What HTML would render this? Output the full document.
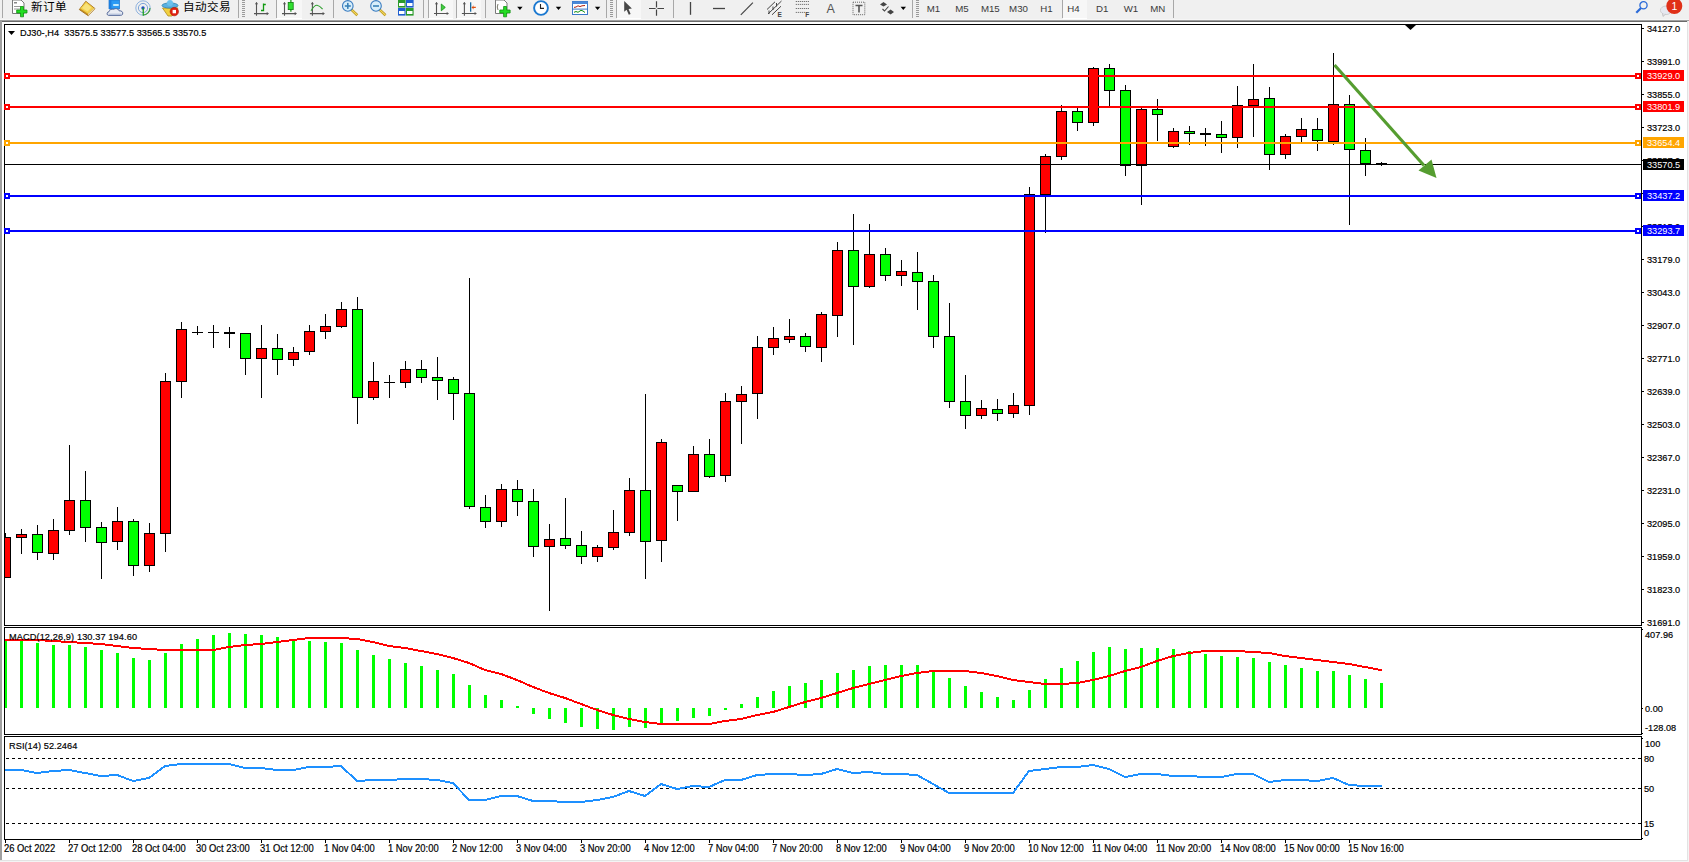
<!DOCTYPE html><html><head><meta charset="utf-8"><title>MT4</title><style>html,body{margin:0;padding:0;width:1689px;height:862px;overflow:hidden;background:#fff}svg{display:block;position:absolute;left:0;top:0}text{font-family:"Liberation Sans", sans-serif}</style></head><body>
<svg width="1689" height="862" viewBox="0 0 1689 862" shape-rendering="crispEdges">
<rect x="0" y="0" width="1689" height="20" fill="#f0f0f0"/>
<g id="toolbar">
<rect x="2" y="0" width="1" height="18" fill="#a8a8a8"/>
<rect x="242" y="0" width="3" height="1" fill="#9a9a9a"/>
<rect x="242" y="2" width="3" height="1" fill="#9a9a9a"/>
<rect x="242" y="4" width="3" height="1" fill="#9a9a9a"/>
<rect x="242" y="6" width="3" height="1" fill="#9a9a9a"/>
<rect x="242" y="8" width="3" height="1" fill="#9a9a9a"/>
<rect x="242" y="10" width="3" height="1" fill="#9a9a9a"/>
<rect x="242" y="12" width="3" height="1" fill="#9a9a9a"/>
<rect x="242" y="14" width="3" height="1" fill="#9a9a9a"/>
<rect x="242" y="16" width="3" height="1" fill="#9a9a9a"/>
<rect x="238" y="0" width="1" height="18" fill="#a8a8a8"/>
<rect x="276" y="0" width="1" height="18" fill="#a8a8a8"/>
<rect x="333" y="0" width="1" height="18" fill="#a8a8a8"/>
<rect x="423" y="0" width="1" height="18" fill="#a8a8a8"/>
<rect x="428" y="0" width="1" height="18" fill="#a8a8a8"/>
<rect x="456" y="0" width="1" height="18" fill="#a8a8a8"/>
<rect x="485" y="0" width="1" height="18" fill="#a8a8a8"/>
<rect x="606" y="0" width="1" height="18" fill="#a8a8a8"/>
<rect x="610" y="0" width="3" height="1" fill="#9a9a9a"/>
<rect x="610" y="2" width="3" height="1" fill="#9a9a9a"/>
<rect x="610" y="4" width="3" height="1" fill="#9a9a9a"/>
<rect x="610" y="6" width="3" height="1" fill="#9a9a9a"/>
<rect x="610" y="8" width="3" height="1" fill="#9a9a9a"/>
<rect x="610" y="10" width="3" height="1" fill="#9a9a9a"/>
<rect x="610" y="12" width="3" height="1" fill="#9a9a9a"/>
<rect x="610" y="14" width="3" height="1" fill="#9a9a9a"/>
<rect x="610" y="16" width="3" height="1" fill="#9a9a9a"/>
<rect x="616" y="0" width="1" height="18" fill="#a8a8a8"/>
<rect x="673" y="0" width="1" height="18" fill="#a8a8a8"/>
<rect x="912" y="0" width="1" height="18" fill="#a8a8a8"/>
<rect x="916" y="0" width="3" height="1" fill="#9a9a9a"/>
<rect x="916" y="2" width="3" height="1" fill="#9a9a9a"/>
<rect x="916" y="4" width="3" height="1" fill="#9a9a9a"/>
<rect x="916" y="6" width="3" height="1" fill="#9a9a9a"/>
<rect x="916" y="8" width="3" height="1" fill="#9a9a9a"/>
<rect x="916" y="10" width="3" height="1" fill="#9a9a9a"/>
<rect x="916" y="12" width="3" height="1" fill="#9a9a9a"/>
<rect x="916" y="14" width="3" height="1" fill="#9a9a9a"/>
<rect x="916" y="16" width="3" height="1" fill="#9a9a9a"/>
<rect x="1062" y="0" width="1" height="18" fill="#a8a8a8"/>
<rect x="1173" y="0" width="1" height="18" fill="#a8a8a8"/>
<rect x="277" y="0" width="25" height="18" fill="#f7f7f7"/>
<rect x="277" y="18" width="25" height="1" fill="#ffffff"/>
<rect x="429" y="0" width="24" height="18" fill="#f7f7f7"/>
<rect x="429" y="18" width="24" height="1" fill="#ffffff"/>
<rect x="457" y="0" width="24" height="18" fill="#f7f7f7"/>
<rect x="457" y="18" width="24" height="1" fill="#ffffff"/>
<rect x="617" y="0" width="24" height="18" fill="#f7f7f7"/>
<rect x="617" y="18" width="24" height="1" fill="#ffffff"/>
<rect x="1063" y="0" width="24" height="18" fill="#f7f7f7"/>
<rect x="1063" y="18" width="24" height="1" fill="#ffffff"/>
<g shape-rendering="geometricPrecision">
<path d="M12.5,0 H21 L24,3 V13.5 H12.5 Z" fill="#fff" stroke="#7a7a7a" stroke-width="1"/>
<rect x="14" y="2" width="3" height="1.5" fill="#888"/><rect x="14" y="6" width="7" height="1" fill="#999"/><rect x="14" y="8.5" width="7" height="1" fill="#999"/>
<path d="M20.5,6.5 h3 v3.5 h3.5 v3 h-3.5 v3.8 h-3 v-3.8 h-3.8 v-3 h3.8 z" fill="#22dd22" stroke="#109010" stroke-width="0.8"/>
<text x="31" y="11.3" font-size="11.6" fill="#000" lang="zh-CN">新订单</text>
<path d="M79.3,9.6 L85.8,1.3 L95,8.6 L88.3,15.8 Z" fill="#c8901c" stroke="#9a6410" stroke-width="0.8"/>
<path d="M80.2,8.6 L86,1.8 L94,8.2 L88,13.8 Z" fill="#f2cf4a"/>
<path d="M82,8 L86.2,3.2 L91.5,7.6 L87.5,11.5 Z" fill="#f8e27a"/>
<path d="M88,13.8 L94,8.2 L95,8.6 L88.3,15.8 Z" fill="#e9d9a8"/>
<path d="M109,0 h10.5 v9 h-10.5 z" fill="#2a9af4" stroke="#1a70c8" stroke-width="0.7"/>
<path d="M109,0 h2.4 v9 h-2.4 z" fill="#1c7fe0"/>
<rect x="113.2" y="4.2" width="5.5" height="1.6" fill="#e8ffff"/>
<path d="M108.6,15.4 C106.6,15.4 106.4,12 109,11.7 C109.4,9.7 111.6,8.7 113.6,9.3 C115.2,7.9 118.6,8.6 119.1,10.8 C121.8,10.5 123.3,12.3 122.6,14.1 C122.2,15 121.6,15.4 120.6,15.4 Z" fill="#e8ecf4" stroke="#4a5f92" stroke-width="0.9"/>
<path d="M108.5,14.3 H121.5" stroke="#b8c4dc" stroke-width="1.4"/>
<circle cx="143" cy="8" r="7.2" fill="none" stroke="#6a9ad8" stroke-width="0.9" opacity="0.8"/>
<circle cx="143" cy="8" r="4.6" fill="none" stroke="#5a8ed0" stroke-width="0.9" opacity="0.85"/>
<path d="M143,15 A7,7 0 0 0 150,8" fill="none" stroke="#40a040" stroke-width="1.2"/>
<circle cx="143" cy="8" r="1.7" fill="#2050c0"/>
<rect x="142.6" y="8" width="1.3" height="7.6" fill="#20a020"/>
<path d="M162.5,8 L178,8 L172,16 L168,16 Z" fill="#f0d040" stroke="#b08a20" stroke-width="0.8"/>
<ellipse cx="170" cy="5.5" rx="8" ry="2.6" fill="#5ab0e0" stroke="#2a80b0" stroke-width="0.8"/>
<ellipse cx="170" cy="3" rx="3" ry="3" fill="#6cc0ec"/>
<circle cx="174.3" cy="11.6" r="4.2" fill="#e02010" stroke="#b01000" stroke-width="0.6"/>
<rect x="172.6" y="9.9" width="3.4" height="3.4" fill="#fff"/>
<text x="183" y="11.3" font-size="11.6" fill="#000" lang="zh-CN">自动交易</text>
<path d="M256.5,2.5 V15.7 M254.0,13.6 H268.0" stroke="#555" stroke-width="1.1" fill="none"/>
<path d="M254.9,4.2 L256.5,2 L258.1,4.2 Z M266.7,12.0 L269.0,13.6 L266.7,15.2 Z" fill="#555"/>
<path d="M263.5,3.5 V11.2 M263.5,4.5 H265.8 M263.5,10.5 H261" stroke="#109a10" stroke-width="1.3" fill="none"/>
<path d="M284.5,2.5 V15.7 M282.0,13.6 H296.0" stroke="#555" stroke-width="1.1" fill="none"/>
<path d="M282.9,4.2 L284.5,2 L286.1,4.2 Z M294.7,12.0 L297.0,13.6 L294.7,15.2 Z" fill="#555"/>
<rect x="290.3" y="0" width="1.2" height="11.7" fill="#109010"/>
<rect x="288.2" y="2.4" width="5" height="7.2" fill="#30e030" stroke="#108010" stroke-width="0.8"/>
<path d="M312.4,2.5 V15.7 M309.9,13.6 H323.9" stroke="#555" stroke-width="1.1" fill="none"/>
<path d="M310.79999999999995,4.2 L312.4,2 L314.0,4.2 Z M322.59999999999997,12.0 L324.9,13.6 L322.59999999999997,15.2 Z" fill="#555"/>
<path d="M311,10.8 Q314.5,5 317,5.3 Q319.5,5.6 322.6,9.2" stroke="#30a030" stroke-width="1.1" fill="none"/>
<path d="M351.40000000000003,9.6 L357.3,15.2" stroke="#b89010" stroke-width="2.6"/>
<path d="M351.7,9.9 L357.1,15" stroke="#f0d860" stroke-width="1.2"/>
<circle cx="347.8" cy="5.9" r="5.3" fill="#d8eefa" stroke="#3a7cc0" stroke-width="1.1"/>
<rect x="344.8" y="5.2" width="6" height="1.6" fill="#3a82b8"/>
<rect x="347.0" y="2.9" width="1.6" height="6" fill="#3a82b8"/>
<path d="M379.6,9.6 L385.5,15.2" stroke="#b89010" stroke-width="2.6"/>
<path d="M379.9,9.9 L385.3,15" stroke="#f0d860" stroke-width="1.2"/>
<circle cx="376" cy="5.9" r="5.3" fill="#d8eefa" stroke="#3a7cc0" stroke-width="1.1"/>
<rect x="373" y="5.2" width="6" height="1.6" fill="#3a82b8"/>
<rect x="398" y="0" width="7.6" height="7.6" fill="#2a9a2a"/>
<rect x="399" y="3" width="5.5" height="3" fill="#fff"/>
<rect x="406" y="0" width="7.6" height="7.6" fill="#1f5fd0"/>
<rect x="407" y="3" width="5.5" height="3" fill="#fff"/>
<rect x="398" y="8" width="7.6" height="7.6" fill="#1f5fd0"/>
<rect x="399" y="11" width="5.5" height="3" fill="#fff"/>
<rect x="406" y="8" width="7.6" height="7.6" fill="#2a9a2a"/>
<rect x="407" y="11" width="5.5" height="3" fill="#fff"/>
<path d="M436.5,2.5 V15.7 M434.0,13.5 H448.0" stroke="#555" stroke-width="1.1" fill="none"/>
<path d="M434.9,4.2 L436.5,2 L438.1,4.2 Z M446.7,11.9 L449.0,13.5 L446.7,15.1 Z" fill="#555"/>
<path d="M441.3,4 L445.3,7.4 L441.3,10.8 Z" fill="#40d040" stroke="#109010" stroke-width="0.8"/>
<path d="M464.4,2.5 V15.7 M461.9,13.5 H475.9" stroke="#555" stroke-width="1.1" fill="none"/>
<path d="M462.79999999999995,4.2 L464.4,2 L466.0,4.2 Z M474.59999999999997,11.9 L476.9,13.5 L474.59999999999997,15.1 Z" fill="#555"/>
<rect x="470" y="2.3" width="1.3" height="9.4" fill="#1a6aa0"/>
<path d="M471.4,7.4 L474,5.3 L473.3,6.8 H475.8 V8 H473.3 L474,9.5 Z" fill="#e05010"/>
<path d="M495.5,0 H504 L507,3 V13.5 H495.5 Z" fill="#fff" stroke="#7a7a7a" stroke-width="1"/>
<path d="M498,4 Q496.5,7 498,10" stroke="#554" stroke-width="0.8" fill="none"/>
<path d="M503.6,6.5 h3 v3.5 h3.5 v3 h-3.5 v3.8 h-3 v-3.8 h-3.8 v-3 h3.8 z" fill="#22dd22" stroke="#109010" stroke-width="0.8"/>
<path d="M517.2,6.8 H522.6 L519.9000000000001,9.9 Z" fill="#000"/>
<circle cx="541" cy="8" r="6.9" fill="#fff" stroke="#1a78d0" stroke-width="1.9"/>
<path d="M540.5,4 V8.4 H544" stroke="#222" stroke-width="1.1" fill="none"/>
<path d="M555.8,6.8 H561.1999999999999 L558.5,9.9 Z" fill="#000"/>
<rect x="572.5" y="1.5" width="15" height="13" fill="#fff" stroke="#3a78c8" stroke-width="1"/>
<rect x="572.5" y="1.5" width="15" height="2.5" fill="#4a88d8"/>
<rect x="573" y="8.6" width="14" height="1" fill="#3a78c8"/>
<path d="M574,7.4 L576,7 L578,5.8 L580,6.6 L582,5.8 L585,5.5" stroke="#b02010" stroke-width="1" fill="none"/>
<path d="M574,12.3 L576,11.5 L578,12.3 L581,10.3 L583,11 L585,12.5" stroke="#109010" stroke-width="1" fill="none"/>
<path d="M594.9,6.8 H600.3 L597.6,9.9 Z" fill="#000"/>
<path d="M624.2,1 L624.2,11.8 L626.6,9.8 L628.8,14.8 L630.6,14 L628.6,9 L631.9,8.5 Z" fill="#484848"/>
<path d="M649,8.5 H655.6 M657.4,8.5 H664 M656.5,1.2 V7.6 M656.5,9.4 V15.8" stroke="#444" stroke-width="1.2"/>
<path d="M690.5,2 V14.8" stroke="#444" stroke-width="1.3"/>
<path d="M713,8.5 H725" stroke="#444" stroke-width="1.3"/>
<path d="M740.8,14.8 L752.9,2.7" stroke="#444" stroke-width="1.2"/>
<path d="M767,9.5 L775,1.8 M768,14 L781.5,1 M772,14.8 L781,6.2 M769,10.5 L769,14 M773,6.5 L773,10 M776.5,3 L776.5,6.5" stroke="#444" stroke-width="1" fill="none"/>
<text x="777.6" y="16.8" font-size="6.5" font-weight="bold" fill="#444">E</text>
<path d="M795.8,1.5 H809.5" stroke="#555" stroke-width="1" stroke-dasharray="1,1" fill="none"/>
<path d="M795.8,4.4 H809.5" stroke="#555" stroke-width="1" stroke-dasharray="1,1" fill="none"/>
<path d="M795.8,8.5 H809.5" stroke="#555" stroke-width="1" stroke-dasharray="1,1" fill="none"/>
<path d="M795.8,12.4 H805" stroke="#555" stroke-width="1" stroke-dasharray="1,1" fill="none"/>
<text x="805.3" y="16.8" font-size="6.5" font-weight="bold" fill="#444">F</text>
<text x="826.4" y="13.2" font-size="12.5" fill="#555">A</text>
<rect x="853" y="2.2" width="11.8" height="12.5" fill="none" stroke="#555" stroke-width="0.9" stroke-dasharray="1,1"/>
<path d="M855.5,5.5 H862.5 M859,5.5 V12.5" stroke="#555" stroke-width="1.6"/>
<path d="M880,4.6 L883.5,2 L887,4.6 L883.5,6.6 Z M887,12 L890.6,9.5 L894,12 L890.6,14.6 Z" fill="#444"/>
<path d="M882.5,9 L884.5,11 L888.5,6.5" stroke="#444" stroke-width="1.1" fill="none"/>
<path d="M900.6,6.8 H906.0 L903.3000000000001,9.9 Z" fill="#000"/>
<circle cx="1643.5" cy="5.3" r="3.6" fill="none" stroke="#2a6ad8" stroke-width="1.3"/>
<path d="M1641,8 L1636.3,12.7" stroke="#2a6ad8" stroke-width="2.2"/>
<ellipse cx="1666" cy="10.3" rx="5.6" ry="4.3" fill="#e6e8f0" stroke="#c8c8c8" stroke-width="0.8"/>
<path d="M1662.5,13.5 L1663,16.5 L1665.5,14.2" fill="#e0e0e8" stroke="#b8b8b8" stroke-width="0.7"/>
<circle cx="1674.3" cy="6" r="8" fill="#e03018"/>
<text x="1674.3" y="9.6" font-size="10.5" fill="#fff" text-anchor="middle">1</text>
</g>
<text x="926.8" y="12" font-size="9.7" fill="#3a3a3a" text-anchor="start">M1</text>
<text x="955.2" y="12" font-size="9.7" fill="#3a3a3a" text-anchor="start">M5</text>
<text x="980.9" y="12" font-size="9.7" fill="#3a3a3a" text-anchor="start">M15</text>
<text x="1009.1" y="12" font-size="9.7" fill="#3a3a3a" text-anchor="start">M30</text>
<text x="1040.2" y="12" font-size="9.7" fill="#3a3a3a" text-anchor="start">H1</text>
<text x="1067.2" y="12" font-size="9.7" fill="#3a3a3a" text-anchor="start">H4</text>
<text x="1096.1" y="12" font-size="9.7" fill="#3a3a3a" text-anchor="start">D1</text>
<text x="1123.7" y="12" font-size="9.7" fill="#3a3a3a" text-anchor="start">W1</text>
<text x="1150.3" y="12" font-size="9.7" fill="#3a3a3a" text-anchor="start">MN</text>
</g>
<rect x="0" y="19" width="1689" height="1" fill="#f6f6f6"/>
<rect x="0" y="20" width="1689" height="1" fill="#a0a0a0"/>
<rect x="0" y="21" width="1689" height="1" fill="#6a6a6a"/>
<rect x="0" y="21" width="2" height="841" fill="#a0a0a0"/>
<rect x="1687" y="21" width="1" height="841" fill="#e3e3e3"/>
<rect x="0" y="860" width="1689" height="1" fill="#e3e3e3"/>
<rect x="1688" y="21" width="1" height="841" fill="#f4f4f4"/>
<rect x="0" y="861" width="1689" height="1" fill="#f4f4f4"/>
<rect x="4" y="24" width="1638" height="1" fill="#000"/>
<rect x="4" y="625" width="1638" height="1" fill="#000"/>
<rect x="4" y="24" width="1" height="602" fill="#000"/>
<rect x="1641" y="24" width="1" height="602" fill="#000"/>
<rect x="4" y="627" width="1638" height="1" fill="#000"/>
<rect x="4" y="734" width="1638" height="1" fill="#000"/>
<rect x="4" y="627" width="1" height="108" fill="#000"/>
<rect x="1641" y="627" width="1" height="108" fill="#000"/>
<rect x="4" y="736" width="1638" height="1" fill="#000"/>
<rect x="4" y="839" width="1638" height="1" fill="#000"/>
<rect x="4" y="736" width="1" height="104" fill="#000"/>
<rect x="1641" y="736" width="1" height="104" fill="#000"/>
<defs><clipPath id="cm"><rect x="5" y="25" width="1636" height="600"/></clipPath><clipPath id="cmacd"><rect x="5" y="628" width="1636" height="106"/></clipPath><clipPath id="crsi"><rect x="5" y="737" width="1636" height="102"/></clipPath></defs>
<g clip-path="url(#cm)">
<rect x="5" y="533" width="1" height="44" fill="#000"/>
<rect x="0" y="537" width="11" height="41" fill="#000"/>
<rect x="1" y="538" width="9" height="39" fill="#ff0000"/>
<rect x="21" y="529" width="1" height="25" fill="#000"/>
<rect x="16" y="534" width="11" height="4" fill="#000"/>
<rect x="17" y="535" width="9" height="2" fill="#ff0000"/>
<rect x="37" y="525" width="1" height="35" fill="#000"/>
<rect x="32" y="534" width="11" height="19" fill="#000"/>
<rect x="33" y="535" width="9" height="17" fill="#00ff00"/>
<rect x="53" y="519" width="1" height="41" fill="#000"/>
<rect x="48" y="530" width="11" height="24" fill="#000"/>
<rect x="49" y="531" width="9" height="22" fill="#ff0000"/>
<rect x="69" y="445" width="1" height="90" fill="#000"/>
<rect x="64" y="500" width="11" height="31" fill="#000"/>
<rect x="65" y="501" width="9" height="29" fill="#ff0000"/>
<rect x="85" y="471" width="1" height="71" fill="#000"/>
<rect x="80" y="500" width="11" height="28" fill="#000"/>
<rect x="81" y="501" width="9" height="26" fill="#00ff00"/>
<rect x="101" y="522" width="1" height="57" fill="#000"/>
<rect x="96" y="527" width="11" height="16" fill="#000"/>
<rect x="97" y="528" width="9" height="14" fill="#00ff00"/>
<rect x="117" y="507" width="1" height="43" fill="#000"/>
<rect x="112" y="521" width="11" height="21" fill="#000"/>
<rect x="113" y="522" width="9" height="19" fill="#ff0000"/>
<rect x="133" y="519" width="1" height="57" fill="#000"/>
<rect x="128" y="521" width="11" height="45" fill="#000"/>
<rect x="129" y="522" width="9" height="43" fill="#00ff00"/>
<rect x="149" y="523" width="1" height="49" fill="#000"/>
<rect x="144" y="533" width="11" height="33" fill="#000"/>
<rect x="145" y="534" width="9" height="31" fill="#ff0000"/>
<rect x="165" y="373" width="1" height="179" fill="#000"/>
<rect x="160" y="381" width="11" height="153" fill="#000"/>
<rect x="161" y="382" width="9" height="151" fill="#ff0000"/>
<rect x="181" y="322" width="1" height="76" fill="#000"/>
<rect x="176" y="329" width="11" height="53" fill="#000"/>
<rect x="177" y="330" width="9" height="51" fill="#ff0000"/>
<rect x="197" y="326" width="1" height="9" fill="#000"/>
<rect x="192" y="332" width="11" height="1" fill="#000"/>
<rect x="213" y="325" width="1" height="23" fill="#000"/>
<rect x="208" y="332" width="11" height="1" fill="#000"/>
<rect x="229" y="327" width="1" height="21" fill="#000"/>
<rect x="224" y="332" width="11" height="2" fill="#000"/>
<rect x="245" y="333" width="1" height="42" fill="#000"/>
<rect x="240" y="333" width="11" height="26" fill="#000"/>
<rect x="241" y="334" width="9" height="24" fill="#00ff00"/>
<rect x="261" y="325" width="1" height="73" fill="#000"/>
<rect x="256" y="348" width="11" height="11" fill="#000"/>
<rect x="257" y="349" width="9" height="9" fill="#ff0000"/>
<rect x="277" y="334" width="1" height="41" fill="#000"/>
<rect x="272" y="348" width="11" height="12" fill="#000"/>
<rect x="273" y="349" width="9" height="10" fill="#00ff00"/>
<rect x="293" y="347" width="1" height="19" fill="#000"/>
<rect x="288" y="352" width="11" height="8" fill="#000"/>
<rect x="289" y="353" width="9" height="6" fill="#ff0000"/>
<rect x="309" y="325" width="1" height="30" fill="#000"/>
<rect x="304" y="331" width="11" height="21" fill="#000"/>
<rect x="305" y="332" width="9" height="19" fill="#ff0000"/>
<rect x="325" y="314" width="1" height="25" fill="#000"/>
<rect x="320" y="326" width="11" height="6" fill="#000"/>
<rect x="321" y="327" width="9" height="4" fill="#ff0000"/>
<rect x="341" y="302" width="1" height="26" fill="#000"/>
<rect x="336" y="309" width="11" height="18" fill="#000"/>
<rect x="337" y="310" width="9" height="16" fill="#ff0000"/>
<rect x="357" y="297" width="1" height="127" fill="#000"/>
<rect x="352" y="309" width="11" height="89" fill="#000"/>
<rect x="353" y="310" width="9" height="87" fill="#00ff00"/>
<rect x="373" y="362" width="1" height="38" fill="#000"/>
<rect x="368" y="381" width="11" height="17" fill="#000"/>
<rect x="369" y="382" width="9" height="15" fill="#ff0000"/>
<rect x="389" y="375" width="1" height="23" fill="#000"/>
<rect x="384" y="382" width="11" height="1" fill="#000"/>
<rect x="405" y="361" width="1" height="27" fill="#000"/>
<rect x="400" y="369" width="11" height="14" fill="#000"/>
<rect x="401" y="370" width="9" height="12" fill="#ff0000"/>
<rect x="421" y="360" width="1" height="23" fill="#000"/>
<rect x="416" y="369" width="11" height="9" fill="#000"/>
<rect x="417" y="370" width="9" height="7" fill="#00ff00"/>
<rect x="437" y="357" width="1" height="43" fill="#000"/>
<rect x="432" y="377" width="11" height="4" fill="#000"/>
<rect x="433" y="378" width="9" height="2" fill="#00ff00"/>
<rect x="453" y="377" width="1" height="43" fill="#000"/>
<rect x="448" y="379" width="11" height="15" fill="#000"/>
<rect x="449" y="380" width="9" height="13" fill="#00ff00"/>
<rect x="469" y="278" width="1" height="231" fill="#000"/>
<rect x="464" y="393" width="11" height="114" fill="#000"/>
<rect x="465" y="394" width="9" height="112" fill="#00ff00"/>
<rect x="485" y="495" width="1" height="33" fill="#000"/>
<rect x="480" y="507" width="11" height="15" fill="#000"/>
<rect x="481" y="508" width="9" height="13" fill="#00ff00"/>
<rect x="501" y="484" width="1" height="43" fill="#000"/>
<rect x="496" y="489" width="11" height="33" fill="#000"/>
<rect x="497" y="490" width="9" height="31" fill="#ff0000"/>
<rect x="517" y="480" width="1" height="36" fill="#000"/>
<rect x="512" y="489" width="11" height="13" fill="#000"/>
<rect x="513" y="490" width="9" height="11" fill="#00ff00"/>
<rect x="533" y="489" width="1" height="68" fill="#000"/>
<rect x="528" y="501" width="11" height="46" fill="#000"/>
<rect x="529" y="502" width="9" height="44" fill="#00ff00"/>
<rect x="549" y="524" width="1" height="87" fill="#000"/>
<rect x="544" y="539" width="11" height="8" fill="#000"/>
<rect x="545" y="540" width="9" height="6" fill="#ff0000"/>
<rect x="565" y="498" width="1" height="51" fill="#000"/>
<rect x="560" y="538" width="11" height="8" fill="#000"/>
<rect x="561" y="539" width="9" height="6" fill="#00ff00"/>
<rect x="581" y="531" width="1" height="33" fill="#000"/>
<rect x="576" y="545" width="11" height="12" fill="#000"/>
<rect x="577" y="546" width="9" height="10" fill="#00ff00"/>
<rect x="597" y="545" width="1" height="17" fill="#000"/>
<rect x="592" y="547" width="11" height="10" fill="#000"/>
<rect x="593" y="548" width="9" height="8" fill="#ff0000"/>
<rect x="613" y="510" width="1" height="40" fill="#000"/>
<rect x="608" y="532" width="11" height="16" fill="#000"/>
<rect x="609" y="533" width="9" height="14" fill="#ff0000"/>
<rect x="629" y="478" width="1" height="58" fill="#000"/>
<rect x="624" y="490" width="11" height="43" fill="#000"/>
<rect x="625" y="491" width="9" height="41" fill="#ff0000"/>
<rect x="645" y="394" width="1" height="185" fill="#000"/>
<rect x="640" y="490" width="11" height="52" fill="#000"/>
<rect x="641" y="491" width="9" height="50" fill="#00ff00"/>
<rect x="661" y="439" width="1" height="123" fill="#000"/>
<rect x="656" y="442" width="11" height="99" fill="#000"/>
<rect x="657" y="443" width="9" height="97" fill="#ff0000"/>
<rect x="677" y="485" width="1" height="36" fill="#000"/>
<rect x="672" y="485" width="11" height="7" fill="#000"/>
<rect x="673" y="486" width="9" height="5" fill="#00ff00"/>
<rect x="693" y="446" width="1" height="45" fill="#000"/>
<rect x="688" y="454" width="11" height="38" fill="#000"/>
<rect x="689" y="455" width="9" height="36" fill="#ff0000"/>
<rect x="709" y="439" width="1" height="39" fill="#000"/>
<rect x="704" y="454" width="11" height="23" fill="#000"/>
<rect x="705" y="455" width="9" height="21" fill="#00ff00"/>
<rect x="725" y="393" width="1" height="89" fill="#000"/>
<rect x="720" y="401" width="11" height="75" fill="#000"/>
<rect x="721" y="402" width="9" height="73" fill="#ff0000"/>
<rect x="741" y="386" width="1" height="58" fill="#000"/>
<rect x="736" y="394" width="11" height="8" fill="#000"/>
<rect x="737" y="395" width="9" height="6" fill="#ff0000"/>
<rect x="757" y="336" width="1" height="83" fill="#000"/>
<rect x="752" y="347" width="11" height="47" fill="#000"/>
<rect x="753" y="348" width="9" height="45" fill="#ff0000"/>
<rect x="773" y="327" width="1" height="28" fill="#000"/>
<rect x="768" y="338" width="11" height="10" fill="#000"/>
<rect x="769" y="339" width="9" height="8" fill="#ff0000"/>
<rect x="789" y="319" width="1" height="24" fill="#000"/>
<rect x="784" y="336" width="11" height="4" fill="#000"/>
<rect x="785" y="337" width="9" height="2" fill="#ff0000"/>
<rect x="805" y="333" width="1" height="19" fill="#000"/>
<rect x="800" y="336" width="11" height="11" fill="#000"/>
<rect x="801" y="337" width="9" height="9" fill="#00ff00"/>
<rect x="821" y="312" width="1" height="50" fill="#000"/>
<rect x="816" y="314" width="11" height="34" fill="#000"/>
<rect x="817" y="315" width="9" height="32" fill="#ff0000"/>
<rect x="837" y="242" width="1" height="95" fill="#000"/>
<rect x="832" y="250" width="11" height="66" fill="#000"/>
<rect x="833" y="251" width="9" height="64" fill="#ff0000"/>
<rect x="853" y="214" width="1" height="131" fill="#000"/>
<rect x="848" y="250" width="11" height="37" fill="#000"/>
<rect x="849" y="251" width="9" height="35" fill="#00ff00"/>
<rect x="869" y="224" width="1" height="64" fill="#000"/>
<rect x="864" y="254" width="11" height="33" fill="#000"/>
<rect x="865" y="255" width="9" height="31" fill="#ff0000"/>
<rect x="885" y="248" width="1" height="33" fill="#000"/>
<rect x="880" y="254" width="11" height="22" fill="#000"/>
<rect x="881" y="255" width="9" height="20" fill="#00ff00"/>
<rect x="901" y="260" width="1" height="26" fill="#000"/>
<rect x="896" y="271" width="11" height="5" fill="#000"/>
<rect x="897" y="272" width="9" height="3" fill="#ff0000"/>
<rect x="917" y="252" width="1" height="58" fill="#000"/>
<rect x="912" y="272" width="11" height="10" fill="#000"/>
<rect x="913" y="273" width="9" height="8" fill="#00ff00"/>
<rect x="933" y="275" width="1" height="73" fill="#000"/>
<rect x="928" y="281" width="11" height="56" fill="#000"/>
<rect x="929" y="282" width="9" height="54" fill="#00ff00"/>
<rect x="949" y="303" width="1" height="105" fill="#000"/>
<rect x="944" y="336" width="11" height="66" fill="#000"/>
<rect x="945" y="337" width="9" height="64" fill="#00ff00"/>
<rect x="965" y="375" width="1" height="54" fill="#000"/>
<rect x="960" y="401" width="11" height="15" fill="#000"/>
<rect x="961" y="402" width="9" height="13" fill="#00ff00"/>
<rect x="981" y="400" width="1" height="19" fill="#000"/>
<rect x="976" y="408" width="11" height="8" fill="#000"/>
<rect x="977" y="409" width="9" height="6" fill="#ff0000"/>
<rect x="997" y="399" width="1" height="22" fill="#000"/>
<rect x="992" y="409" width="11" height="5" fill="#000"/>
<rect x="993" y="410" width="9" height="3" fill="#00ff00"/>
<rect x="1013" y="393" width="1" height="25" fill="#000"/>
<rect x="1008" y="405" width="11" height="9" fill="#000"/>
<rect x="1009" y="406" width="9" height="7" fill="#ff0000"/>
<rect x="1029" y="187" width="1" height="228" fill="#000"/>
<rect x="1024" y="194" width="11" height="212" fill="#000"/>
<rect x="1025" y="195" width="9" height="210" fill="#ff0000"/>
<rect x="1045" y="154" width="1" height="79" fill="#000"/>
<rect x="1040" y="156" width="11" height="39" fill="#000"/>
<rect x="1041" y="157" width="9" height="37" fill="#ff0000"/>
<rect x="1061" y="105" width="1" height="55" fill="#000"/>
<rect x="1056" y="111" width="11" height="46" fill="#000"/>
<rect x="1057" y="112" width="9" height="44" fill="#ff0000"/>
<rect x="1077" y="108" width="1" height="23" fill="#000"/>
<rect x="1072" y="111" width="11" height="12" fill="#000"/>
<rect x="1073" y="112" width="9" height="10" fill="#00ff00"/>
<rect x="1093" y="67" width="1" height="59" fill="#000"/>
<rect x="1088" y="68" width="11" height="55" fill="#000"/>
<rect x="1089" y="69" width="9" height="53" fill="#ff0000"/>
<rect x="1109" y="64" width="1" height="42" fill="#000"/>
<rect x="1104" y="68" width="11" height="23" fill="#000"/>
<rect x="1105" y="69" width="9" height="21" fill="#00ff00"/>
<rect x="1125" y="85" width="1" height="91" fill="#000"/>
<rect x="1120" y="90" width="11" height="76" fill="#000"/>
<rect x="1121" y="91" width="9" height="74" fill="#00ff00"/>
<rect x="1141" y="108" width="1" height="97" fill="#000"/>
<rect x="1136" y="109" width="11" height="57" fill="#000"/>
<rect x="1137" y="110" width="9" height="55" fill="#ff0000"/>
<rect x="1157" y="99" width="1" height="42" fill="#000"/>
<rect x="1152" y="109" width="11" height="6" fill="#000"/>
<rect x="1153" y="110" width="9" height="4" fill="#00ff00"/>
<rect x="1173" y="128" width="1" height="20" fill="#000"/>
<rect x="1168" y="131" width="11" height="16" fill="#000"/>
<rect x="1169" y="132" width="9" height="14" fill="#ff0000"/>
<rect x="1189" y="126" width="1" height="19" fill="#000"/>
<rect x="1184" y="131" width="11" height="3" fill="#000"/>
<rect x="1185" y="132" width="9" height="1" fill="#00ff00"/>
<rect x="1205" y="128" width="1" height="18" fill="#000"/>
<rect x="1200" y="133" width="11" height="2" fill="#000"/>
<rect x="1221" y="121" width="1" height="32" fill="#000"/>
<rect x="1216" y="134" width="11" height="4" fill="#000"/>
<rect x="1217" y="135" width="9" height="2" fill="#00ff00"/>
<rect x="1237" y="86" width="1" height="62" fill="#000"/>
<rect x="1232" y="105" width="11" height="33" fill="#000"/>
<rect x="1233" y="106" width="9" height="31" fill="#ff0000"/>
<rect x="1253" y="64" width="1" height="73" fill="#000"/>
<rect x="1248" y="99" width="11" height="7" fill="#000"/>
<rect x="1249" y="100" width="9" height="5" fill="#ff0000"/>
<rect x="1269" y="87" width="1" height="83" fill="#000"/>
<rect x="1264" y="98" width="11" height="57" fill="#000"/>
<rect x="1265" y="99" width="9" height="55" fill="#00ff00"/>
<rect x="1285" y="134" width="1" height="25" fill="#000"/>
<rect x="1280" y="136" width="11" height="19" fill="#000"/>
<rect x="1281" y="137" width="9" height="17" fill="#ff0000"/>
<rect x="1301" y="118" width="1" height="24" fill="#000"/>
<rect x="1296" y="129" width="11" height="8" fill="#000"/>
<rect x="1297" y="130" width="9" height="6" fill="#ff0000"/>
<rect x="1317" y="118" width="1" height="33" fill="#000"/>
<rect x="1312" y="129" width="11" height="12" fill="#000"/>
<rect x="1313" y="130" width="9" height="10" fill="#00ff00"/>
<rect x="1333" y="53" width="1" height="92" fill="#000"/>
<rect x="1328" y="104" width="11" height="38" fill="#000"/>
<rect x="1329" y="105" width="9" height="36" fill="#ff0000"/>
<rect x="1349" y="95" width="1" height="130" fill="#000"/>
<rect x="1344" y="104" width="11" height="46" fill="#000"/>
<rect x="1345" y="105" width="9" height="44" fill="#00ff00"/>
<rect x="1365" y="138" width="1" height="38" fill="#000"/>
<rect x="1360" y="150" width="11" height="14" fill="#000"/>
<rect x="1361" y="151" width="9" height="12" fill="#00ff00"/>
<rect x="1381" y="162" width="1" height="4" fill="#000"/>
<rect x="1376" y="163" width="11" height="1" fill="#000"/>
<rect x="5" y="164" width="1636" height="1" fill="#000"/>
<rect x="5" y="75" width="1636" height="2" fill="#ff0000"/>
<rect x="5" y="106" width="1636" height="2" fill="#ff0000"/>
<rect x="5" y="142" width="1636" height="2" fill="#ffa500"/>
<rect x="5" y="195" width="1636" height="2" fill="#0000ff"/>
<rect x="5" y="230" width="1636" height="2" fill="#0000ff"/>
</g>
<rect x="4" y="73" width="6" height="6" fill="#ff0000"/>
<rect x="6" y="75" width="2" height="2" fill="#fff"/>
<rect x="1635" y="73" width="6" height="6" fill="#ff0000"/>
<rect x="1637" y="75" width="2" height="2" fill="#fff"/>
<rect x="4" y="104" width="6" height="6" fill="#ff0000"/>
<rect x="6" y="106" width="2" height="2" fill="#fff"/>
<rect x="1635" y="104" width="6" height="6" fill="#ff0000"/>
<rect x="1637" y="106" width="2" height="2" fill="#fff"/>
<rect x="4" y="140" width="6" height="6" fill="#ffa500"/>
<rect x="6" y="142" width="2" height="2" fill="#fff"/>
<rect x="1635" y="140" width="6" height="6" fill="#ffa500"/>
<rect x="1637" y="142" width="2" height="2" fill="#fff"/>
<rect x="4" y="193" width="6" height="6" fill="#0000ff"/>
<rect x="6" y="195" width="2" height="2" fill="#fff"/>
<rect x="1635" y="193" width="6" height="6" fill="#0000ff"/>
<rect x="1637" y="195" width="2" height="2" fill="#fff"/>
<rect x="4" y="228" width="6" height="6" fill="#0000ff"/>
<rect x="6" y="230" width="2" height="2" fill="#fff"/>
<rect x="1635" y="228" width="6" height="6" fill="#0000ff"/>
<rect x="1637" y="230" width="2" height="2" fill="#fff"/>
<g shape-rendering="geometricPrecision">
<line x1="1334.5" y1="65" x2="1424" y2="165.5" stroke="#559d30" stroke-width="3.2"/>
<polygon points="1436.5,178 1418.5,170.5 1431.5,159.5" fill="#559d30"/>
</g>
<polygon points="1405,25 1416,25 1410.5,30" fill="#000" shape-rendering="geometricPrecision"/>
<polygon points="8,31 15,31 11.5,35" fill="#000" shape-rendering="geometricPrecision"/>
<text transform="translate(20,35.5) scale(1,1.07)" font-size="9.2" fill="#000" stroke="#000" stroke-width="0.18" textLength="186.3" lengthAdjust="spacing" text-anchor="start">DJ30-,H4&#160;&#160;33575.5 33577.5 33565.5 33570.5</text>
<rect x="1642" y="28" width="2" height="1" fill="#000"/>
<text transform="translate(1647,31.5) scale(1,1.07)" font-size="9.2" fill="#000" stroke="#000" stroke-width="0.18" text-anchor="start">34127.0</text>
<rect x="1642" y="61" width="2" height="1" fill="#000"/>
<text transform="translate(1647,64.5) scale(1,1.07)" font-size="9.2" fill="#000" stroke="#000" stroke-width="0.18" text-anchor="start">33991.0</text>
<rect x="1642" y="94" width="2" height="1" fill="#000"/>
<text transform="translate(1647,97.5) scale(1,1.07)" font-size="9.2" fill="#000" stroke="#000" stroke-width="0.18" text-anchor="start">33855.0</text>
<rect x="1642" y="127" width="2" height="1" fill="#000"/>
<text transform="translate(1647,130.5) scale(1,1.07)" font-size="9.2" fill="#000" stroke="#000" stroke-width="0.18" text-anchor="start">33723.0</text>
<rect x="1642" y="160" width="2" height="1" fill="#000"/>
<text transform="translate(1647,163.5) scale(1,1.07)" font-size="9.2" fill="#000" stroke="#000" stroke-width="0.18" text-anchor="start">33587.0</text>
<rect x="1642" y="193" width="2" height="1" fill="#000"/>
<rect x="1642" y="226" width="2" height="1" fill="#000"/>
<text transform="translate(1647,229.5) scale(1,1.07)" font-size="9.2" fill="#000" stroke="#000" stroke-width="0.18" text-anchor="start">33315.0</text>
<rect x="1642" y="259" width="2" height="1" fill="#000"/>
<text transform="translate(1647,262.5) scale(1,1.07)" font-size="9.2" fill="#000" stroke="#000" stroke-width="0.18" text-anchor="start">33179.0</text>
<rect x="1642" y="292" width="2" height="1" fill="#000"/>
<text transform="translate(1647,295.5) scale(1,1.07)" font-size="9.2" fill="#000" stroke="#000" stroke-width="0.18" text-anchor="start">33043.0</text>
<rect x="1642" y="325" width="2" height="1" fill="#000"/>
<text transform="translate(1647,328.5) scale(1,1.07)" font-size="9.2" fill="#000" stroke="#000" stroke-width="0.18" text-anchor="start">32907.0</text>
<rect x="1642" y="358" width="2" height="1" fill="#000"/>
<text transform="translate(1647,361.5) scale(1,1.07)" font-size="9.2" fill="#000" stroke="#000" stroke-width="0.18" text-anchor="start">32771.0</text>
<rect x="1642" y="391" width="2" height="1" fill="#000"/>
<text transform="translate(1647,394.5) scale(1,1.07)" font-size="9.2" fill="#000" stroke="#000" stroke-width="0.18" text-anchor="start">32639.0</text>
<rect x="1642" y="424" width="2" height="1" fill="#000"/>
<text transform="translate(1647,427.5) scale(1,1.07)" font-size="9.2" fill="#000" stroke="#000" stroke-width="0.18" text-anchor="start">32503.0</text>
<rect x="1642" y="457" width="2" height="1" fill="#000"/>
<text transform="translate(1647,460.5) scale(1,1.07)" font-size="9.2" fill="#000" stroke="#000" stroke-width="0.18" text-anchor="start">32367.0</text>
<rect x="1642" y="490" width="2" height="1" fill="#000"/>
<text transform="translate(1647,493.5) scale(1,1.07)" font-size="9.2" fill="#000" stroke="#000" stroke-width="0.18" text-anchor="start">32231.0</text>
<rect x="1642" y="523" width="2" height="1" fill="#000"/>
<text transform="translate(1647,526.5) scale(1,1.07)" font-size="9.2" fill="#000" stroke="#000" stroke-width="0.18" text-anchor="start">32095.0</text>
<rect x="1642" y="556" width="2" height="1" fill="#000"/>
<text transform="translate(1647,559.5) scale(1,1.07)" font-size="9.2" fill="#000" stroke="#000" stroke-width="0.18" text-anchor="start">31959.0</text>
<rect x="1642" y="589" width="2" height="1" fill="#000"/>
<text transform="translate(1647,592.5) scale(1,1.07)" font-size="9.2" fill="#000" stroke="#000" stroke-width="0.18" text-anchor="start">31823.0</text>
<rect x="1642" y="622" width="2" height="1" fill="#000"/>
<text transform="translate(1647,625.5) scale(1,1.07)" font-size="9.2" fill="#000" stroke="#000" stroke-width="0.18" text-anchor="start">31691.0</text>
<rect x="1643" y="70" width="41" height="11" fill="#ff0000"/>
<text transform="translate(1647,78.8) scale(1,1.07)" font-size="9.2" fill="#fff" text-anchor="start">33929.0</text>
<rect x="1643" y="101" width="41" height="11" fill="#ff0000"/>
<text transform="translate(1647,109.8) scale(1,1.07)" font-size="9.2" fill="#fff" text-anchor="start">33801.9</text>
<rect x="1643" y="137" width="41" height="11" fill="#ffa500"/>
<text transform="translate(1647,145.8) scale(1,1.07)" font-size="9.2" fill="#fff" text-anchor="start">33654.4</text>
<rect x="1643" y="159" width="41" height="11" fill="#000000"/>
<text transform="translate(1647,167.8) scale(1,1.07)" font-size="9.2" fill="#fff" text-anchor="start">33570.5</text>
<rect x="1643" y="190" width="41" height="11" fill="#0000ff"/>
<text transform="translate(1647,198.8) scale(1,1.07)" font-size="9.2" fill="#fff" text-anchor="start">33437.2</text>
<rect x="1643" y="225" width="41" height="11" fill="#0000ff"/>
<text transform="translate(1647,233.8) scale(1,1.07)" font-size="9.2" fill="#fff" text-anchor="start">33293.7</text>
<g clip-path="url(#cmacd)">
<rect x="4" y="641" width="3" height="67" fill="#00ff00"/>
<rect x="20" y="641" width="3" height="67" fill="#00ff00"/>
<rect x="36" y="643" width="3" height="65" fill="#00ff00"/>
<rect x="52" y="645" width="3" height="63" fill="#00ff00"/>
<rect x="68" y="645" width="3" height="63" fill="#00ff00"/>
<rect x="84" y="647" width="3" height="61" fill="#00ff00"/>
<rect x="100" y="650" width="3" height="58" fill="#00ff00"/>
<rect x="116" y="653" width="3" height="55" fill="#00ff00"/>
<rect x="132" y="658" width="3" height="50" fill="#00ff00"/>
<rect x="148" y="660" width="3" height="48" fill="#00ff00"/>
<rect x="164" y="653" width="3" height="55" fill="#00ff00"/>
<rect x="180" y="644" width="3" height="64" fill="#00ff00"/>
<rect x="196" y="639" width="3" height="69" fill="#00ff00"/>
<rect x="212" y="635" width="3" height="73" fill="#00ff00"/>
<rect x="228" y="633" width="3" height="75" fill="#00ff00"/>
<rect x="244" y="634" width="3" height="74" fill="#00ff00"/>
<rect x="260" y="635" width="3" height="73" fill="#00ff00"/>
<rect x="276" y="637" width="3" height="71" fill="#00ff00"/>
<rect x="292" y="640" width="3" height="68" fill="#00ff00"/>
<rect x="308" y="641" width="3" height="67" fill="#00ff00"/>
<rect x="324" y="642" width="3" height="66" fill="#00ff00"/>
<rect x="340" y="643" width="3" height="65" fill="#00ff00"/>
<rect x="356" y="650" width="3" height="58" fill="#00ff00"/>
<rect x="372" y="655" width="3" height="53" fill="#00ff00"/>
<rect x="388" y="659" width="3" height="49" fill="#00ff00"/>
<rect x="404" y="663" width="3" height="45" fill="#00ff00"/>
<rect x="420" y="666" width="3" height="42" fill="#00ff00"/>
<rect x="436" y="670" width="3" height="38" fill="#00ff00"/>
<rect x="452" y="674" width="3" height="34" fill="#00ff00"/>
<rect x="468" y="685" width="3" height="23" fill="#00ff00"/>
<rect x="484" y="695" width="3" height="13" fill="#00ff00"/>
<rect x="500" y="700" width="3" height="8" fill="#00ff00"/>
<rect x="516" y="706" width="3" height="2" fill="#00ff00"/>
<rect x="532" y="708" width="3" height="6" fill="#00ff00"/>
<rect x="548" y="708" width="3" height="11" fill="#00ff00"/>
<rect x="564" y="708" width="3" height="15" fill="#00ff00"/>
<rect x="580" y="708" width="3" height="19" fill="#00ff00"/>
<rect x="596" y="708" width="3" height="21" fill="#00ff00"/>
<rect x="612" y="708" width="3" height="22" fill="#00ff00"/>
<rect x="628" y="708" width="3" height="19" fill="#00ff00"/>
<rect x="644" y="708" width="3" height="20" fill="#00ff00"/>
<rect x="660" y="708" width="3" height="15" fill="#00ff00"/>
<rect x="676" y="708" width="3" height="13" fill="#00ff00"/>
<rect x="692" y="708" width="3" height="10" fill="#00ff00"/>
<rect x="708" y="708" width="3" height="8" fill="#00ff00"/>
<rect x="724" y="708" width="3" height="2" fill="#00ff00"/>
<rect x="740" y="704" width="3" height="4" fill="#00ff00"/>
<rect x="756" y="697" width="3" height="11" fill="#00ff00"/>
<rect x="772" y="691" width="3" height="17" fill="#00ff00"/>
<rect x="788" y="686" width="3" height="22" fill="#00ff00"/>
<rect x="804" y="683" width="3" height="25" fill="#00ff00"/>
<rect x="820" y="680" width="3" height="28" fill="#00ff00"/>
<rect x="836" y="673" width="3" height="35" fill="#00ff00"/>
<rect x="852" y="670" width="3" height="38" fill="#00ff00"/>
<rect x="868" y="666" width="3" height="42" fill="#00ff00"/>
<rect x="884" y="665" width="3" height="43" fill="#00ff00"/>
<rect x="900" y="665" width="3" height="43" fill="#00ff00"/>
<rect x="916" y="665" width="3" height="43" fill="#00ff00"/>
<rect x="932" y="670" width="3" height="38" fill="#00ff00"/>
<rect x="948" y="678" width="3" height="30" fill="#00ff00"/>
<rect x="964" y="686" width="3" height="22" fill="#00ff00"/>
<rect x="980" y="692" width="3" height="16" fill="#00ff00"/>
<rect x="996" y="697" width="3" height="11" fill="#00ff00"/>
<rect x="1012" y="700" width="3" height="8" fill="#00ff00"/>
<rect x="1028" y="690" width="3" height="18" fill="#00ff00"/>
<rect x="1044" y="679" width="3" height="29" fill="#00ff00"/>
<rect x="1060" y="668" width="3" height="40" fill="#00ff00"/>
<rect x="1076" y="661" width="3" height="47" fill="#00ff00"/>
<rect x="1092" y="652" width="3" height="56" fill="#00ff00"/>
<rect x="1108" y="647" width="3" height="61" fill="#00ff00"/>
<rect x="1124" y="649" width="3" height="59" fill="#00ff00"/>
<rect x="1140" y="648" width="3" height="60" fill="#00ff00"/>
<rect x="1156" y="648" width="3" height="60" fill="#00ff00"/>
<rect x="1172" y="649" width="3" height="59" fill="#00ff00"/>
<rect x="1188" y="651" width="3" height="57" fill="#00ff00"/>
<rect x="1204" y="654" width="3" height="54" fill="#00ff00"/>
<rect x="1220" y="656" width="3" height="52" fill="#00ff00"/>
<rect x="1236" y="657" width="3" height="51" fill="#00ff00"/>
<rect x="1252" y="658" width="3" height="50" fill="#00ff00"/>
<rect x="1268" y="662" width="3" height="46" fill="#00ff00"/>
<rect x="1284" y="665" width="3" height="43" fill="#00ff00"/>
<rect x="1300" y="668" width="3" height="40" fill="#00ff00"/>
<rect x="1316" y="671" width="3" height="37" fill="#00ff00"/>
<rect x="1332" y="671" width="3" height="37" fill="#00ff00"/>
<rect x="1348" y="675" width="3" height="33" fill="#00ff00"/>
<rect x="1364" y="679" width="3" height="29" fill="#00ff00"/>
<rect x="1380" y="683" width="3" height="25" fill="#00ff00"/>
<polyline points="5,640 21,640 37,640 53,641 69,642 85,643 101,644 117,646 133,648 149,649 165,650 181,650 197,650 213,650 229,647 245,645 261,644 277,642 293,640 309,638 325,638 341,638 357,639 373,642 389,646 405,648 421,651 437,654 453,658 469,663 485,670 501,674 517,680 533,687 549,693 565,698 581,704 597,710 613,715 629,719 645,722 661,724 677,724 693,724 709,724 725,721 741,719 757,715 773,712 789,707 805,702 821,698 837,693 853,688 869,684 885,680 901,676 917,673 933,671 949,671 965,671 981,673 997,676 1013,680 1029,682 1045,684 1061,684 1077,683 1093,680 1109,676 1125,671 1141,667 1157,661 1173,656 1189,653 1205,651 1221,651 1237,651 1253,652 1269,653 1285,656 1301,658 1317,660 1333,662 1349,664 1365,667 1381,670" fill="none" stroke="#ff0000" stroke-width="2" stroke-linejoin="round" stroke-linecap="square" shape-rendering="crispEdges"/>
</g>
<text transform="translate(9,640) scale(1,1.07)" font-size="9.2" fill="#000" stroke="#000" stroke-width="0.18" textLength="128" lengthAdjust="spacing" text-anchor="start">MACD(12,26,9) 130.37 194.60</text>
<text transform="translate(1645,638.0) scale(1,1.07)" font-size="9.2" fill="#000" stroke="#000" stroke-width="0.18" text-anchor="start">407.96</text>
<text transform="translate(1645,712.0) scale(1,1.07)" font-size="9.2" fill="#000" stroke="#000" stroke-width="0.18" text-anchor="start">0.00</text>
<text transform="translate(1645,731.0) scale(1,1.07)" font-size="9.2" fill="#000" stroke="#000" stroke-width="0.18" text-anchor="start">-128.08</text>
<rect x="1642" y="629" width="1" height="1" fill="#000"/>
<rect x="1642" y="708" width="1" height="1" fill="#000"/>
<rect x="1642" y="733" width="1" height="1" fill="#000"/>
<g clip-path="url(#crsi)">
<line x1="6" y1="758.5" x2="1641" y2="758.5" stroke="#000" stroke-width="1" stroke-dasharray="3,3"/>
<line x1="6" y1="788.5" x2="1641" y2="788.5" stroke="#000" stroke-width="1" stroke-dasharray="3,3"/>
<line x1="6" y1="823.5" x2="1641" y2="823.5" stroke="#000" stroke-width="1" stroke-dasharray="3,3"/>
<polyline points="5,770 21,770 37,773 53,771 69,770 85,773 101,776 117,775 133,781 149,778 165,766 181,764 197,764 213,764 229,764 245,768 261,768 277,770 293,770 309,767 325,767 341,766 357,781 373,780 389,780 405,779 421,779 437,780 453,783 469,800 485,800 501,796 517,796 533,801 549,801 565,802 581,802 597,800 613,797 629,791 645,796 661,784 677,789 693,786 709,787 725,780 741,780 757,775 773,774 789,774 805,775 821,774 837,769 853,773 869,772 885,774 901,774 917,775 933,784 949,793 965,793 981,793 997,793 1013,793 1029,771 1045,769 1061,767 1077,767 1093,765 1109,769 1125,777 1141,774 1157,774 1173,776 1189,776 1205,777 1221,777 1237,774 1253,774 1269,782 1285,780 1301,780 1317,781 1333,778 1349,785 1365,786 1381,786" fill="none" stroke="#1e90ff" stroke-width="2" stroke-linejoin="round" stroke-linecap="square" shape-rendering="crispEdges"/>
</g>
<text transform="translate(9,749) scale(1,1.07)" font-size="9.2" fill="#000" stroke="#000" stroke-width="0.18" textLength="68.3" lengthAdjust="spacing" text-anchor="start">RSI(14) 52.2464</text>
<text transform="translate(1645,747.0) scale(1,1.07)" font-size="9.2" fill="#000" stroke="#000" stroke-width="0.18" text-anchor="start">100</text>
<text transform="translate(1644,762.0) scale(1,1.07)" font-size="9.2" fill="#000" stroke="#000" stroke-width="0.18" text-anchor="start">80</text>
<text transform="translate(1644,792.0) scale(1,1.07)" font-size="9.2" fill="#000" stroke="#000" stroke-width="0.18" text-anchor="start">50</text>
<text transform="translate(1644,827.0) scale(1,1.07)" font-size="9.2" fill="#000" stroke="#000" stroke-width="0.18" text-anchor="start">15</text>
<text transform="translate(1644,836.0) scale(1,1.07)" font-size="9.2" fill="#000" stroke="#000" stroke-width="0.18" text-anchor="start">0</text>
<rect x="1642" y="738" width="1" height="1" fill="#000"/>
<rect x="1642" y="838" width="1" height="1" fill="#000"/>
<rect x="5" y="840" width="1" height="3" fill="#000"/>
<text transform="translate(4,852) scale(1,1.07)" font-size="9.4" fill="#000" stroke="#000" stroke-width="0.18" text-anchor="start">26 Oct 2022</text>
<rect x="69" y="840" width="1" height="3" fill="#000"/>
<text transform="translate(68,852) scale(1,1.07)" font-size="9.4" fill="#000" stroke="#000" stroke-width="0.18" text-anchor="start">27 Oct 12:00</text>
<rect x="133" y="840" width="1" height="3" fill="#000"/>
<text transform="translate(132,852) scale(1,1.07)" font-size="9.4" fill="#000" stroke="#000" stroke-width="0.18" text-anchor="start">28 Oct 04:00</text>
<rect x="197" y="840" width="1" height="3" fill="#000"/>
<text transform="translate(196,852) scale(1,1.07)" font-size="9.4" fill="#000" stroke="#000" stroke-width="0.18" text-anchor="start">30 Oct 23:00</text>
<rect x="261" y="840" width="1" height="3" fill="#000"/>
<text transform="translate(260,852) scale(1,1.07)" font-size="9.4" fill="#000" stroke="#000" stroke-width="0.18" text-anchor="start">31 Oct 12:00</text>
<rect x="325" y="840" width="1" height="3" fill="#000"/>
<text transform="translate(324,852) scale(1,1.07)" font-size="9.4" fill="#000" stroke="#000" stroke-width="0.18" text-anchor="start">1 Nov 04:00</text>
<rect x="389" y="840" width="1" height="3" fill="#000"/>
<text transform="translate(388,852) scale(1,1.07)" font-size="9.4" fill="#000" stroke="#000" stroke-width="0.18" text-anchor="start">1 Nov 20:00</text>
<rect x="453" y="840" width="1" height="3" fill="#000"/>
<text transform="translate(452,852) scale(1,1.07)" font-size="9.4" fill="#000" stroke="#000" stroke-width="0.18" text-anchor="start">2 Nov 12:00</text>
<rect x="517" y="840" width="1" height="3" fill="#000"/>
<text transform="translate(516,852) scale(1,1.07)" font-size="9.4" fill="#000" stroke="#000" stroke-width="0.18" text-anchor="start">3 Nov 04:00</text>
<rect x="581" y="840" width="1" height="3" fill="#000"/>
<text transform="translate(580,852) scale(1,1.07)" font-size="9.4" fill="#000" stroke="#000" stroke-width="0.18" text-anchor="start">3 Nov 20:00</text>
<rect x="645" y="840" width="1" height="3" fill="#000"/>
<text transform="translate(644,852) scale(1,1.07)" font-size="9.4" fill="#000" stroke="#000" stroke-width="0.18" text-anchor="start">4 Nov 12:00</text>
<rect x="709" y="840" width="1" height="3" fill="#000"/>
<text transform="translate(708,852) scale(1,1.07)" font-size="9.4" fill="#000" stroke="#000" stroke-width="0.18" text-anchor="start">7 Nov 04:00</text>
<rect x="773" y="840" width="1" height="3" fill="#000"/>
<text transform="translate(772,852) scale(1,1.07)" font-size="9.4" fill="#000" stroke="#000" stroke-width="0.18" text-anchor="start">7 Nov 20:00</text>
<rect x="837" y="840" width="1" height="3" fill="#000"/>
<text transform="translate(836,852) scale(1,1.07)" font-size="9.4" fill="#000" stroke="#000" stroke-width="0.18" text-anchor="start">8 Nov 12:00</text>
<rect x="901" y="840" width="1" height="3" fill="#000"/>
<text transform="translate(900,852) scale(1,1.07)" font-size="9.4" fill="#000" stroke="#000" stroke-width="0.18" text-anchor="start">9 Nov 04:00</text>
<rect x="965" y="840" width="1" height="3" fill="#000"/>
<text transform="translate(964,852) scale(1,1.07)" font-size="9.4" fill="#000" stroke="#000" stroke-width="0.18" text-anchor="start">9 Nov 20:00</text>
<rect x="1029" y="840" width="1" height="3" fill="#000"/>
<text transform="translate(1028,852) scale(1,1.07)" font-size="9.4" fill="#000" stroke="#000" stroke-width="0.18" text-anchor="start">10 Nov 12:00</text>
<rect x="1093" y="840" width="1" height="3" fill="#000"/>
<text transform="translate(1092,852) scale(1,1.07)" font-size="9.4" fill="#000" stroke="#000" stroke-width="0.18" text-anchor="start">11 Nov 04:00</text>
<rect x="1157" y="840" width="1" height="3" fill="#000"/>
<text transform="translate(1156,852) scale(1,1.07)" font-size="9.4" fill="#000" stroke="#000" stroke-width="0.18" text-anchor="start">11 Nov 20:00</text>
<rect x="1221" y="840" width="1" height="3" fill="#000"/>
<text transform="translate(1220,852) scale(1,1.07)" font-size="9.4" fill="#000" stroke="#000" stroke-width="0.18" text-anchor="start">14 Nov 08:00</text>
<rect x="1285" y="840" width="1" height="3" fill="#000"/>
<text transform="translate(1284,852) scale(1,1.07)" font-size="9.4" fill="#000" stroke="#000" stroke-width="0.18" text-anchor="start">15 Nov 00:00</text>
<rect x="1349" y="840" width="1" height="3" fill="#000"/>
<text transform="translate(1348,852) scale(1,1.07)" font-size="9.4" fill="#000" stroke="#000" stroke-width="0.18" text-anchor="start">15 Nov 16:00</text>
</svg></body></html>
